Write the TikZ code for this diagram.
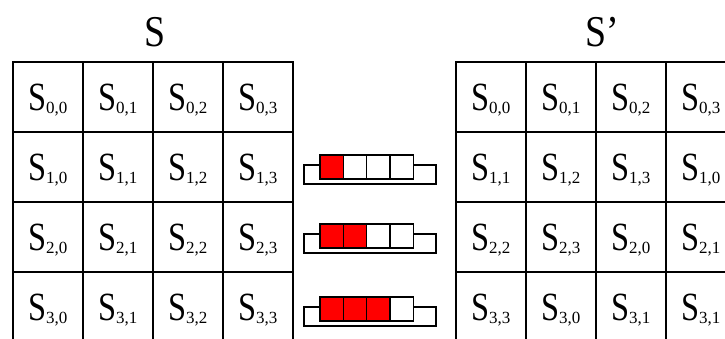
\documentclass[tikz,border=0pt]{standalone}
\usepackage{fontspec}
\setmainfont{Liberation Serif}
\usepackage{graphicx}

% state byte S_{r,c}
\newcommand{\sval}[2]{\scalebox{0.81}[1]{S}\raisebox{-3pt}{\fontsize{17}{17}\selectfont #1,#2}}

\begin{document}
\begin{tikzpicture}[x=1pt,y=-1pt,
		cell/.style={draw,line width=1.6pt,minimum width=70pt,minimum height=70pt,inner sep=0pt,
			text height=30pt,text depth=2pt,anchor=north west,font=\rmfamily\fontsize{40}{40}\selectfont},
		title/.style={font=\rmfamily\fontsize{44}{44}\selectfont},
		slot/.style={draw,line width=1.2pt}]
		\useasboundingbox (0,0) rectangle (725,338);
		\clip (0,0) rectangle (725,338);

		% Titles
		\node[title] (titleS) at (155,32) {\scalebox{0.86}[1]{S}};
		\node[title] (titleT) at (602,32) {\scalebox{0.86}[1]{S’}};

		% State S
		\foreach \r in {0,...,3}
			\foreach \c in {0,...,3}
				\node[cell] (s\r\c) at ({12+70*\c},{61+70*\r}) {\sval{\r}{\c}};

		% State S' after ShiftRows
		\foreach \r/\row in {0/{0,1,2,3},1/{1,2,3,0},2/{2,3,0,1},3/{3,0,1,1}}
			\foreach \k [count=\c from 0] in \row
				\node[cell] (t\r\c) at ({455+70*\c},{61+70*\r}) {\sval{\r}{\k}};

		% Shift registers
		\foreach \n/\y in {1/155,2/224,3/297} {
			\draw[slot,fill=white] (304,\y+10) rectangle (436,\y+29);
			\foreach \k in {0,...,3} {
				\ifnum\k<\n \def\clr{red}\else\def\clr{white}\fi
				\draw[slot,fill=\clr] ({320+23.33*\k},\y) rectangle ({343.33+23.33*\k},\y+24);
			}
		}

	\end{tikzpicture}
\end{document}
